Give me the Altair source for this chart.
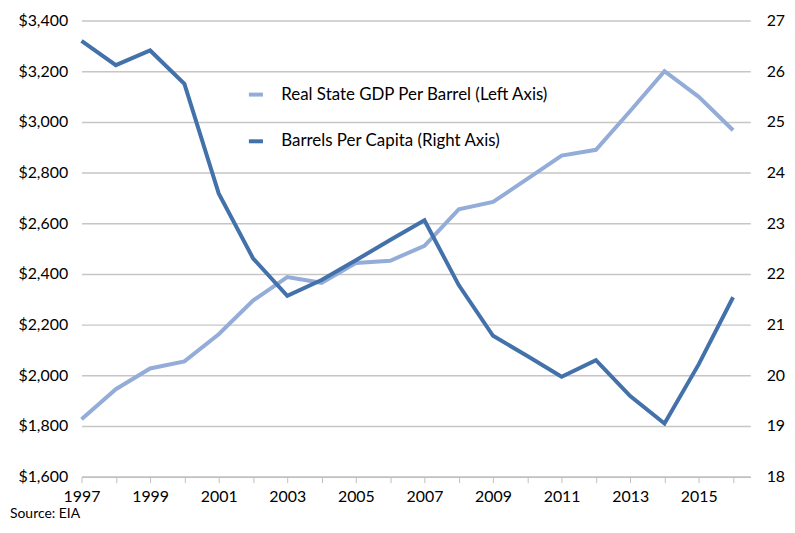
import altair as alt
import pandas as pd

years = list(range(1997, 2017))
gdp_per_barrel = [1827, 1945, 2027, 2055, 2162, 2295, 2388, 2365, 2443, 2452,
                  2511, 2655, 2684, 2775, 2867, 2890, 3043, 3200, 3099, 2967]
barrels_per_capita = [26.60, 26.12, 26.41, 25.75, 23.59, 22.31, 21.57, 21.88, 22.27, 22.67,
                      23.06, 21.78, 20.78, 20.38, 19.97, 20.30, 19.59, 19.05, 20.22, 21.54]
series_names = ["Real State GDP Per Barrel (Left Axis)", "Barrels Per Capita (Right Axis)"]
series_colors = ["#93ADD8", "#4371AA"]
left_ticks = [1600, 1800, 2000, 2200, 2400, 2600, 2800, 3000, 3200, 3400]
right_ticks = [18, 19, 20, 21, 22, 23, 24, 25, 26, 27]

df1 = pd.DataFrame({"year": years, "value": gdp_per_barrel, "series": series_names[0]})
df2 = pd.DataFrame({"year": years, "value": barrels_per_capita, "series": series_names[1]})

FONT = "Lato"
W, H = 673, 459

xenc = alt.X("year:Q",
             scale=alt.Scale(domain=[1997, 2016.5], nice=False, zero=False),
             axis=alt.Axis(values=years, format="d",
                           labelExpr="datum.value % 2 == 1 ? datum.label : ''",
                           grid=False, ticks=True, tickSize=6, tickColor="#BFBFBF",
                           domainColor="#BFBFBF", domainWidth=1.5,
                           labelFontSize=16, labelColor="#000000", labelFont=FONT,
                           labelPadding=6, title=None, labelFlush=False, labelOverlap=False))

color = alt.Color("series:N",
                  scale=alt.Scale(domain=series_names, range=series_colors),
                  legend=alt.Legend(orient="none", legendX=166, legendY=65, title=None,
                                    symbolType="stroke", symbolStrokeWidth=4, symbolSize=200,
                                    labelFontSize=17, labelFont=FONT, labelColor="#000000",
                                    rowPadding=29, labelOffset=16, labelLimit=400))

left = alt.Chart(df1).mark_line(strokeWidth=4).encode(
    x=xenc,
    y=alt.Y("value:Q",
            scale=alt.Scale(domain=[1600, 3400], nice=False, zero=False),
            axis=alt.Axis(values=left_ticks, format="$,d", grid=True, gridColor="#C6C6C6",
                          gridWidth=1.5, domain=False, ticks=False, labelFontSize=16,
                          labelFont=FONT, labelColor="#000000", labelPadding=14, title=None)),
    color=color,
)

right = alt.Chart(df2).mark_line(strokeWidth=4).encode(
    x=xenc,
    y=alt.Y("value:Q",
            scale=alt.Scale(domain=[18, 27], nice=False, zero=False),
            axis=alt.Axis(values=right_ticks, orient="right", grid=False, domain=False,
                          ticks=False, labelFontSize=16, labelFont=FONT, labelColor="#000000",
                          labelPadding=16, title=None)),
    color=color,
)

source = alt.Chart(pd.DataFrame({"t": ["Source: EIA"]})).mark_text(
    align="left", baseline="middle", fontSize=14, font=FONT, color="#000000"
).encode(text="t:N", x=alt.value(-72), y=alt.value(38 + H))

chart = alt.layer(left, right, source).resolve_scale(y="independent").properties(
    width=W, height=H,
    autosize=alt.AutoSizeParams(type="none"),
    padding={"left": 74, "top": 11, "right": 37, "bottom": 46},
).configure_view(stroke=None)

chart.save("out.html", embed_options={"renderer": "svg", "actions": False})
